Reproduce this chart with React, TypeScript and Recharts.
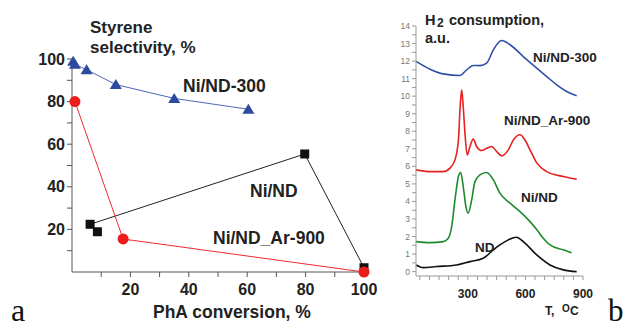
import React from 'react';
import {
  ScatterChart, Scatter, LineChart, Line, XAxis, YAxis,
} from 'recharts';

// panel a: PhA conversion (%) vs styrene selectivity (%)
const niNd300 = [
  { x: 0.4, y: 99 },
  { x: 1, y: 97.5 },
  { x: 5, y: 95 },
  { x: 15, y: 88 },
  { x: 35, y: 81.5 },
  { x: 60.4, y: 76.4 },
];
const niNdAr900 = [
  { x: 1, y: 80 },
  { x: 17.5, y: 15.5 },
  { x: 100, y: 0 },
];
const niNd = [
  { x: 8.7, y: 18.9 },
  { x: 6.2, y: 22.4 },
  { x: 79.7, y: 55.4 },
  { x: 100, y: 2 },
];
const convTicks = [10, 20, 30, 40, 50, 60, 70, 80, 90, 100];
const selTicks = [10, 20, 30, 40, 50, 60, 70, 80, 90, 100];

// panel b: TPR curves, T (°C) vs H2 consumption (a.u.)
const tprNiNd300 = [
  { t: 30, h: 11.98 }, { t: 103, h: 11.54 }, { t: 172, h: 11.27 }, { t: 259, h: 11.18 },
  { t: 294, h: 11.5 }, { t: 328, h: 11.75 }, { t: 363, h: 11.74 }, { t: 398, h: 11.88 },
  { t: 433, h: 12.64 }, { t: 476, h: 13.17 }, { t: 520, h: 12.93 }, { t: 589, h: 12.26 },
  { t: 659, h: 11.6 }, { t: 711, h: 11.12 }, { t: 763, h: 10.65 }, { t: 815, h: 10.27 },
  { t: 867, h: 10.02 },
];
const tprNiNdAr900 = [
  { t: 30, h: 5.8 }, { t: 103, h: 5.7 }, { t: 172, h: 5.7 }, { t: 207, h: 5.9 },
  { t: 233, h: 6.37 }, { t: 251, h: 7.5 }, { t: 259, h: 9.2 }, { t: 268, h: 10.36 },
  { t: 276, h: 9.4 }, { t: 285, h: 7.9 }, { t: 297, h: 6.65 }, { t: 311, h: 7.13 },
  { t: 328, h: 7.55 }, { t: 346, h: 7.13 }, { t: 372, h: 6.9 }, { t: 398, h: 7.03 },
  { t: 424, h: 7.13 }, { t: 450, h: 6.85 }, { t: 476, h: 6.6 }, { t: 511, h: 6.94 },
  { t: 537, h: 7.5 }, { t: 572, h: 7.8 }, { t: 598, h: 7.5 }, { t: 624, h: 6.94 },
  { t: 659, h: 6.2 }, { t: 711, h: 5.7 }, { t: 797, h: 5.42 }, { t: 867, h: 5.27 },
];
const tprNiNd = [
  { t: 30, h: 1.71 }, { t: 103, h: 1.65 }, { t: 172, h: 1.71 }, { t: 198, h: 1.9 },
  { t: 216, h: 2.57 }, { t: 233, h: 4.09 }, { t: 251, h: 5.42 }, { t: 263, h: 5.65 },
  { t: 276, h: 4.85 }, { t: 290, h: 3.7 }, { t: 302, h: 3.33 }, { t: 320, h: 4.09 },
  { t: 337, h: 5.13 }, { t: 363, h: 5.51 }, { t: 398, h: 5.65 }, { t: 433, h: 5.23 },
  { t: 467, h: 4.47 }, { t: 520, h: 3.9 }, { t: 572, h: 3.42 }, { t: 624, h: 2.85 },
  { t: 667, h: 2.28 }, { t: 693, h: 1.9 }, { t: 728, h: 1.52 }, { t: 797, h: 1.24 },
  { t: 841, h: 1.08 },
];
const tprNd = [
  { t: 30, h: 0.38 }, { t: 68, h: 0.23 }, { t: 137, h: 0.29 }, { t: 242, h: 0.38 },
  { t: 311, h: 0.57 }, { t: 380, h: 0.76 }, { t: 433, h: 1.24 }, { t: 467, h: 1.52 },
  { t: 511, h: 1.81 }, { t: 554, h: 1.96 }, { t: 589, h: 1.71 }, { t: 659, h: 0.95 },
  { t: 728, h: 0.38 }, { t: 797, h: 0.1 }, { t: 867, h: 0.0 },
];
const tempTicks = [50, 100, 150, 200, 250, 300, 350, 400, 450, 500, 550, 600, 650, 700, 750, 800, 850, 900];
const h2Ticks = Array.from({ length: 29 }, (_, i) => i / 2);

const SANS = "'Liberation Sans', Arial, sans-serif";
const SERIF = "'Liberation Serif', 'Times New Roman', serif";

const Tri = (p: any) => (
  <polygon
    points={`${p.cx},${p.cy - 5.5} ${p.cx - 6},${p.cy + 4.5} ${p.cx + 6},${p.cy + 4.5}`}
    fill="#2c4a9e"
  />
);
const Dot = (p: any) => <circle cx={p.cx} cy={p.cy} r={5.5} fill="#ec1c1c" />;
const Sq = (p: any) => <rect x={p.cx - 4.5} y={p.cy - 4.5} width={9} height={9} fill="#111" />;

const boldTick = { fontSize: 16, fontWeight: 700, fill: '#222', fontFamily: SANS };

export default function App() {
  return (
    <div style={{ position: 'absolute', left: 0, top: 0, width: 626, height: 329, background: '#fff' }}>
      <div style={{ position: 'absolute', left: 0, top: 0 }}>
        <ScatterChart width={380} height={329} margin={{ top: 59, right: 16, left: 0, bottom: 27 }}>
          <XAxis
            type="number" dataKey="x" domain={[0, 100]} ticks={convTicks} height={30}
            tickFormatter={(v: number) => (v % 20 === 0 ? String(v) : '')}
            stroke="#555" tickSize={5} tickMargin={7} tick={boldTick} interval={0}
          />
          <YAxis
            type="number" dataKey="y" domain={[0, 100]} ticks={selTicks} width={72}
            tickFormatter={(v: number) => (v % 20 === 0 ? String(v) : '')}
            stroke="#555" tickSize={5} tick={boldTick} interval={0}
          />
          <Scatter data={niNd300} shape={Tri} line={{ stroke: '#4b67b8', strokeWidth: 1 }} isAnimationActive={false} />
          <Scatter data={niNd} shape={Sq} line={{ stroke: '#222', strokeWidth: 1 }} isAnimationActive={false} />
          <Scatter data={niNdAr900} shape={Dot} line={{ stroke: '#ee2a2a', strokeWidth: 1 }} isAnimationActive={false} />
        </ScatterChart>
      </div>

      <div style={{ position: 'absolute', left: 360, top: 0 }}>
        <LineChart width={266} height={329} margin={{ top: 26, right: 43, left: 0, bottom: 23 }}>
          <XAxis
            type="number" dataKey="t" domain={[30, 900]} ticks={tempTicks} height={30}
            tickFormatter={(v: number) => (v % 300 === 0 ? String(v) : '')}
            stroke="#999" tickSize={4} tickMargin={9} interval={0}
            tick={{ fontSize: 12, fontWeight: 700, fill: '#222', fontFamily: SANS }}
          />
          <YAxis
            type="number" domain={[-0.25, 14]} ticks={h2Ticks} width={56}
            tickFormatter={(v: number) => (Number.isInteger(v) ? String(v) : '')}
            stroke="#999" tickSize={4} interval={0}
            tick={{ fontSize: 8.5, fill: '#777', fontFamily: SANS }}
          />
          <Line data={tprNiNd300} dataKey="h" type="monotone" stroke="#3050a8" strokeWidth={1.6} dot={false} isAnimationActive={false} />
          <Line data={tprNiNdAr900} dataKey="h" type="monotone" stroke="#e82020" strokeWidth={1.6} dot={false} isAnimationActive={false} />
          <Line data={tprNiNd} dataKey="h" type="monotone" stroke="#1d8a2c" strokeWidth={1.6} dot={false} isAnimationActive={false} />
          <Line data={tprNd} dataKey="h" type="monotone" stroke="#111" strokeWidth={1.6} dot={false} isAnimationActive={false} />
        </LineChart>
      </div>

      <svg width={626} height={329} style={{ position: 'absolute', left: 0, top: 0, pointerEvents: 'none' }}>
        <g fontFamily={SANS} fontWeight={700} fill="#222">
          <text x={90} y={33} fontSize={17}>Styrene</text>
          <text x={90} y={53} fontSize={17}>selectivity, %</text>
          <text x={183} y={91.5} fontSize={17.5}>Ni/ND-300</text>
          <text x={250} y={197} fontSize={17.5}>Ni/ND</text>
          <text x={213} y={243.5} fontSize={17.5}>Ni/ND_Ar-900</text>
          <text x={153} y={318} fontSize={17.5}>PhA conversion, %</text>

          <text x={425} y={25} fontSize={14.5}>H</text>
          <text x={437} y={27} fontSize={12}>2</text>
          <text x={449} y={25} fontSize={14.5}>consumption,</text>
          <text x={425} y={43} fontSize={14.5}>a.u.</text>
          <text x={533} y={62} fontSize={13.5}>Ni/ND-300</text>
          <text x={504} y={125} fontSize={13.5}>Ni/ND_Ar-900</text>
          <text x={521} y={201.5} fontSize={13.5}>Ni/ND</text>
          <text x={475} y={251.5} fontSize={13.5}>ND</text>
          <text x={545} y={315} fontSize={12}>T,</text>
          <text x={562} y={312} fontSize={10}>O</text>
          <text x={570} y={315} fontSize={12}>C</text>
        </g>
        <text x={11} y={321} fontSize={32} fontFamily={SERIF} fill="#111">a</text>
        <text x={608} y={321} fontSize={31} fontFamily={SERIF} fill="#111">b</text>
      </svg>
    </div>
  );
}
